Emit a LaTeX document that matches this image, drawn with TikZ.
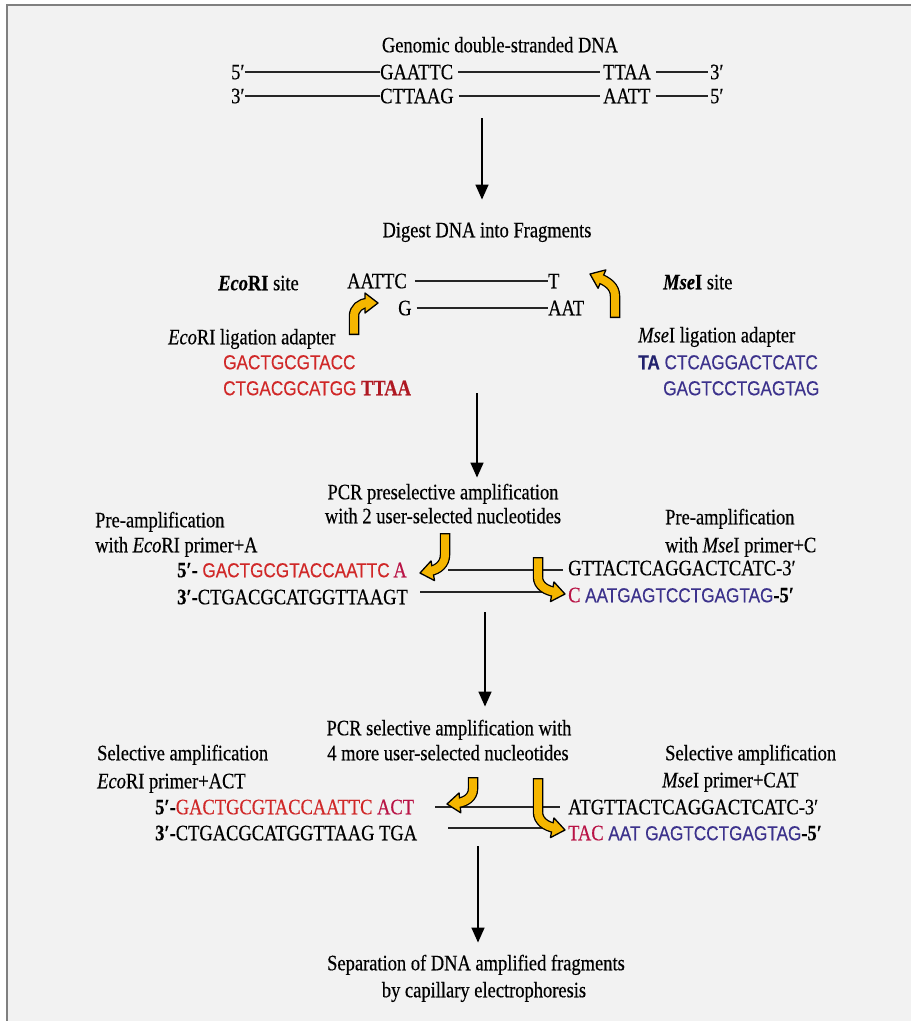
\documentclass[tikz,border=0pt]{standalone}
\usepackage{fontspec}
\setmainfont{Liberation Serif}[FakeStretch=0.84,FakeBold=0.4]
\newfontfamily\sq{Liberation Sans}[FakeStretch=0.85,FakeBold=0.3]
\usetikzlibrary{arrows.meta}
\definecolor{bgc}{RGB}{242,242,242}
\definecolor{seqred}{RGB}{208,40,40}
\definecolor{darkred}{RGB}{175,25,35}
\definecolor{crim}{RGB}{185,20,70}
\definecolor{seqblue}{RGB}{60,50,140}
\definecolor{navy}{RGB}{35,35,110}
\definecolor{yel}{RGB}{245,182,0}
\newcommand\tsz{\fontsize{22}{26}\selectfont}
\newcommand\ssz{\sq\fontsize{20.2}{24}\selectfont}
\newcommand\yarr[3]{%
  \draw[line width=10.5pt, black] #1;
  \filldraw[fill=yel, draw=black, line width=1.3pt, line join=round, shift={#2}, rotate=#3] (0,0) -- (-13,10) -- (-13,-10) -- cycle;
  \draw[line width=7.9pt, yel, shorten <=1.3pt] #1;
}
\begin{document}
\begin{tikzpicture}[x=1pt,y=-1pt,
  txt/.style={inner sep=0pt, font=\tsz, text height=14.5pt, text depth=0pt},
  lbl/.style={txt, anchor=west},
  ctr/.style={txt, anchor=center},
  dna/.style={line width=1.5pt, black!85},
  flow/.style={line width=1.5pt, black, -{Triangle[length=15pt,width=13pt]}}]
\fill[white] (0,0) rectangle (911,1021);
\fill[bgc] (7,5) rectangle (911,1021);
\useasboundingbox (0,0) rectangle (911,1021);
\draw[gray, line width=1.5pt] (7,1021) -- (7,5) -- (911,5);

% ---- genomic DNA
\node[ctr] (title) at (500,45) {Genomic double-stranded DNA};
\node[lbl] (f5) at (231,72) {5′};
\node[lbl] (eco1) at (380,72) {GAATTC};
\node[lbl] (mse1) at (603,72) {TTAA};
\node[lbl] (f3) at (710,72) {3′};
\node[lbl] (r3) at (231,96) {3′};
\node[lbl] (eco2) at (380,96) {CTTAAG};
\node[lbl] (mse2) at (603,96) {AATT};
\node[lbl] (r5) at (710,96) {5′};
\draw[dna] (f5.east) -- (eco1.west);
\draw[dna] ([xshift=5pt]eco1.east) -- ([xshift=-3pt]mse1.west);
\draw[dna] ([xshift=5pt]mse1.east) -- ([xshift=-2pt]f3.west);
\draw[dna] (r3.east) -- (eco2.west);
\draw[dna] ([xshift=5pt]eco2.east) -- ([xshift=-3pt]mse2.west);
\draw[dna] ([xshift=5pt]mse2.east) -- ([xshift=-2pt]r5.west);

\coordinate (a1) at (482,118);
\node[ctr] (digest) at (487,230) {Digest DNA into Fragments};
\draw[flow, shorten >=23pt] (a1) -- (a1 |- digest.north);

% ---- fragments and adapters
\node[lbl] (ecosite) at (218,283) {{\bfseries{\itshape Eco}RI} site};
\node[lbl] (aattc) at (347,281) {AATTC};
\node[lbl] (tt) at (548,281) {T};
\node[lbl] (gg) at (398,308) {G};
\node[lbl] (aat) at (548,308) {AAT};
\draw[dna] ([xshift=8pt]aattc.east) -- (tt.west);
\draw[dna] ([xshift=5pt]gg.east) -- (aat.west);
\node[lbl] (msesite) at (663,282) {{\bfseries{\itshape Mse}I} site};
\node[lbl] (ecoad) at (168,337) {{\itshape Eco}RI ligation adapter};
\node[lbl, font=\ssz, text=seqred] (ecos1) at (223,362) {GACTGCGTACC};
\node[lbl] (ecos2) at (223,388) {{\ssz\color{seqred}CTGACGCATGG} {\bfseries\color{darkred}TTAA}};
\node[lbl] (msead) at (638,335) {{\itshape Mse}I ligation adapter};
\node[lbl, font=\ssz] (mses1) at (638,362) {{\bfseries\color{navy}TA} {\color{seqblue}CTCAGGACTCATC}};
\node[lbl, font=\ssz, text=seqblue] (mses2) at (663,388) {GAGTCCTGAGTAG};
\yarr{(354,335) -- (354,316) to[out=90,in=180] (368,303)}{(378,303)}{0}
\yarr{(615,318) -- (615,296) to[out=90,in=-23] (599,278)}{(590,274)}{157}

\coordinate (a2) at (477,393);
\node[ctr] (pcr1a) at (443,492) {PCR preselective amplification};
\node[ctr] (pcr1b) at (443,516) {with 2 user-selected nucleotides};
\draw[flow, shorten >=7pt] (a2) -- (a2 |- pcr1a.north);

% ---- preselective amplification
\node[lbl] (prel1) at (95,520) {Pre-amplification};
\node[lbl] (prel2) at (95,545) {with {\itshape Eco}RI primer+A};
\node[lbl] (prer1) at (665,517) {Pre-amplification};
\node[lbl] (prer2) at (665,545) {with {\itshape Mse}I primer+C};
\node[lbl] (p5) at (177,570) {\textbf{5′-} {\ssz\color{seqred}GACTGCGTACCAATTC}\,{\color{crim}A}};
\node[lbl] (p3) at (177,597) {\textbf{3′-}CTGACGCATGGTTAAGT};
\node[lbl] (q3) at (568,568) {GTTACTCAGGACTCATC-3′};
\node[lbl] (q5) at (568,595) {{\color{crim}C} {\ssz\color{seqblue}AATGAGTCCTGAGTAG}\textbf{-5′}};
\coordinate (l3a) at (448,570);
\coordinate (l3b) at (420,592);
\draw[dna] (l3a) -- ([xshift=-5pt]l3a -| q3.west);
\draw[dna] (l3b) -- ([xshift=-14pt]l3b -| q5.west);
\yarr{(445,533) -- (445,555) to[out=-90,in=10] (430,571)}{(420,573)}{190}
\yarr{(538,557) -- (538,577) to[out=-90,in=170] (555,592)}{(565,594)}{-10}

\coordinate (a3) at (485,612);
\node[ctr] (pcr2a) at (449,728) {PCR selective amplification with};
\node[ctr] (pcr2b) at (448,753) {4 more user-selected nucleotides};
\draw[flow, shorten >=14pt] (a3) -- (a3 |- pcr2a.north);

% ---- selective amplification
\node[lbl] (sell1) at (97,753) {Selective amplification};
\node[lbl] (sell2) at (97,781) {{\itshape Eco}RI primer+ACT};
\node[lbl] (selr1) at (665,753) {Selective amplification};
\node[lbl] (selr2) at (662,780) {{\itshape Mse}I primer+CAT};
\node[lbl] (s5) at (155,807) {\textbf{5′-}{\color{seqred}GACTGCGTACCAATTC} {\color{crim}ACT}};
\node[lbl] (s3) at (155,833) {\textbf{3′-}CTGACGCATGGTTAAG TGA};
\node[lbl] (t3) at (568,807) {ATGTTACTCAGGACTCATC-3′};
\node[lbl] (t5) at (568,833) {{\color{crim}TAC} {\ssz\color{seqblue}AAT GAGTCCTGAGTAG}\textbf{-5′}};
\coordinate (l4a) at (435,807);
\coordinate (l4b) at (448,828);
\draw[dna] (l4a) -- ([xshift=-8pt]l4a -| t3.west);
\draw[dna] (l4b) -- ([xshift=-11pt]l4b -| t5.west);
\yarr{(473,777) -- (473,789) to[out=-90,in=5] (457,803)}{(447,804)}{185}
\yarr{(538,778) -- (538,812) to[out=-90,in=170] (555,828)}{(565,830)}{-10}

\coordinate (a4) at (478,846);
\node[ctr] (sep1) at (476,963) {Separation of DNA amplified fragments};
\node[ctr] (sep2) at (484,990) {by capillary electrophoresis};
\draw[flow, shorten >=13pt] (a4) -- (a4 |- sep1.north);
\end{tikzpicture}
\end{document}
